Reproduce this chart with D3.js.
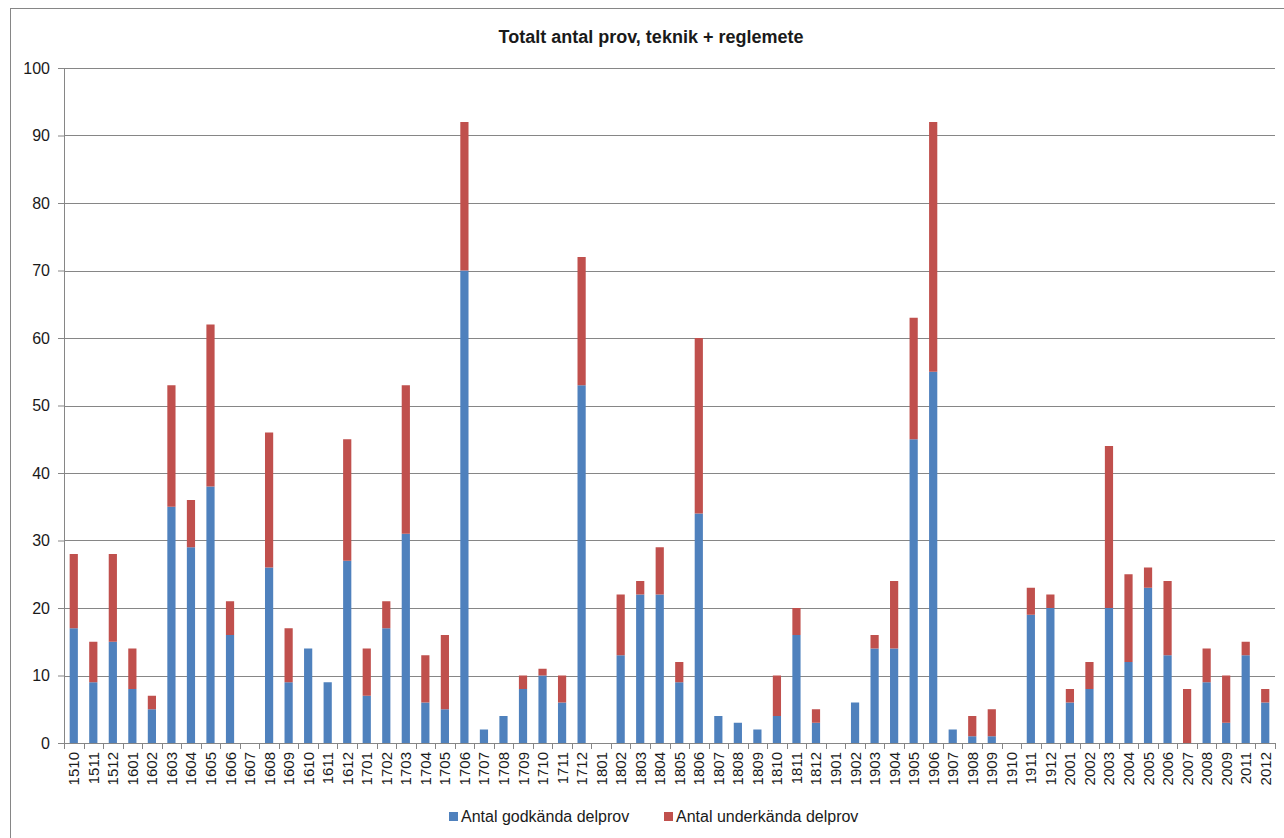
<!DOCTYPE html>
<html>
<head>
<meta charset="utf-8">
<script src="https://cdn.jsdelivr.net/npm/d3@7"></script>
<style>
  body { margin: 0; background: #fff; }
  svg { display: block; }
  text { font-family: "Liberation Sans", Arial, sans-serif; fill: #1a1a1a; }
</style>
</head>
<body>
<svg id="chart" width="1284" height="838"></svg>
<script>
var categories = ["1510", "1511", "1512", "1601", "1602", "1603", "1604", "1605", "1606", "1607",
    "1608", "1609", "1610", "1611", "1612", "1701", "1702", "1703", "1704", "1705",
    "1706", "1707", "1708", "1709", "1710", "1711", "1712", "1801", "1802", "1803",
    "1804", "1805", "1806", "1807", "1808", "1809", "1810", "1811", "1812", "1901",
    "1902", "1903", "1904", "1905", "1906", "1907", "1908", "1909", "1910", "1911",
    "1912", "2001", "2002", "2003", "2004", "2005", "2006", "2007", "2008", "2009",
    "2011", "2012"];

// Antal godkända delprov
var godkanda = [17, 9, 15, 8, 5, 35, 29, 38, 16, 0,
    26, 9, 14, 9, 27, 7, 17, 31, 6, 5,
    70, 2, 4, 8, 10, 6, 53, 0, 13, 22,
    22, 9, 34, 4, 3, 2, 4, 16, 3, 0,
    6, 14, 14, 45, 55, 2, 1, 1, 0, 19,
    20, 6, 8, 20, 12, 23, 13, 0, 9, 3,
    13, 6];

// Antal underkända delprov
var underkanda = [11, 6, 13, 6, 2, 18, 7, 24, 5, 0,
    20, 8, 0, 0, 18, 7, 4, 22, 7, 11,
    22, 0, 0, 2, 1, 4, 19, 0, 9, 2,
    7, 3, 26, 0, 0, 0, 6, 4, 2, 0,
    0, 2, 10, 18, 37, 0, 3, 4, 0, 4,
    2, 2, 4, 24, 13, 3, 11, 8, 5, 7,
    2, 2];

var yTicks = [0, 10, 20, 30, 40, 50, 60, 70, 80, 90, 100];
var seriesNames = ["Antal godkända delprov", "Antal underkända delprov"];
var seriesColors = ["#4F81BD", "#C0504D"];
var title = "Totalt antal prov, teknik + reglemete";

var svg = d3.select("#chart"),
    margin = { top: 68, right: 9, bottom: 95, left: 64 },
    width = 1284 - margin.left - margin.right,
    height = 838 - margin.top - margin.bottom;

// outer chart border
svg.append("rect")
    .attr("x", 10.5).attr("y", 8.5)
    .attr("width", 1300).attr("height", 860)
    .attr("fill", "none")
    .attr("stroke", "#868686");

svg.append("text")
    .attr("x", 651)
    .attr("y", 43)
    .attr("text-anchor", "middle")
    .attr("font-size", 18)
    .attr("font-weight", "bold")
    .attr("fill", "#000")
    .text(title);

var g = svg.append("g").attr("transform", "translate(" + margin.left + "," + margin.top + ")");

var x = d3.scaleBand()
    .domain(categories)
    .range([0, width])
    .paddingInner(0.58)
    .paddingOuter(0.29);

var y = d3.scaleLinear()
    .domain([0, 100])
    .range([height, 0]);

var data = categories.map(function (c, i) {
    return { cat: c, godkanda: godkanda[i], underkanda: underkanda[i] };
});
var stack = d3.stack().keys(["godkanda", "underkanda"])(data);

// gridlines
g.append("g")
    .selectAll("line")
    .data(yTicks)
    .enter().append("line")
    .attr("x1", 0)
    .attr("x2", width)
    .attr("y1", function (d) { return Math.round(y(d)) + 0.5; })
    .attr("y2", function (d) { return Math.round(y(d)) + 0.5; })
    .attr("stroke", "#868686");

// bars
g.append("g")
    .selectAll("g")
    .data(stack)
    .enter().append("g")
    .attr("fill", function (d, i) { return seriesColors[i]; })
    .selectAll("rect")
    .data(function (d) { return d; })
    .enter().append("rect")
    .attr("x", function (d) { return x(d.data.cat); })
    .attr("y", function (d) { return y(d[1]); })
    .attr("width", x.bandwidth())
    .attr("height", function (d) { return y(d[0]) - y(d[1]); });

// y axis
var yAxis = g.append("g")
    .call(d3.axisLeft(y).tickValues(yTicks).tickSize(6).tickSizeOuter(0).tickPadding(8));
yAxis.select(".domain").attr("stroke", "#868686");
yAxis.selectAll(".tick line").attr("stroke", "#868686");
yAxis.selectAll(".tick text")
    .attr("font-size", 16)
    .attr("font-family", null)
    .attr("fill", "#1a1a1a");

// x axis with ticks at band boundaries
var xAxis = g.append("g")
    .attr("transform", "translate(0," + height + ")");
xAxis.append("line")
    .attr("x1", 0).attr("x2", width)
    .attr("y1", 0.5).attr("y2", 0.5)
    .attr("stroke", "#868686");
var step = x.step();
xAxis.selectAll(".xtick")
    .data(d3.range(categories.length + 1))
    .enter().append("line")
    .attr("class", "xtick")
    .attr("x1", function (i) { return Math.round(i * step) + 0.5; })
    .attr("x2", function (i) { return Math.round(i * step) + 0.5; })
    .attr("y1", 0)
    .attr("y2", 6)
    .attr("stroke", "#868686");
xAxis.selectAll(".xlabel")
    .data(categories)
    .enter().append("text")
    .attr("class", "xlabel")
    .attr("transform", function (d) {
        return "translate(" + (x(d) + x.bandwidth() / 2 + 5.5) + ",9) rotate(-90)";
    })
    .attr("text-anchor", "end")
    .attr("font-size", 15)
    .text(function (d) { return d; });

// legend
var legend = svg.append("g")
    .selectAll("g")
    .data(seriesNames)
    .enter().append("g")
    .attr("transform", function (d, i) {
        return "translate(" + (i === 0 ? 449 : 664) + ",812)";
    });
legend.append("rect")
    .attr("width", 9)
    .attr("height", 9)
    .attr("fill", function (d, i) { return seriesColors[i]; });
legend.append("text")
    .attr("x", 12)
    .attr("y", 10)
    .attr("font-size", 16)
    .text(function (d) { return d; });
</script>
</body>
</html>
